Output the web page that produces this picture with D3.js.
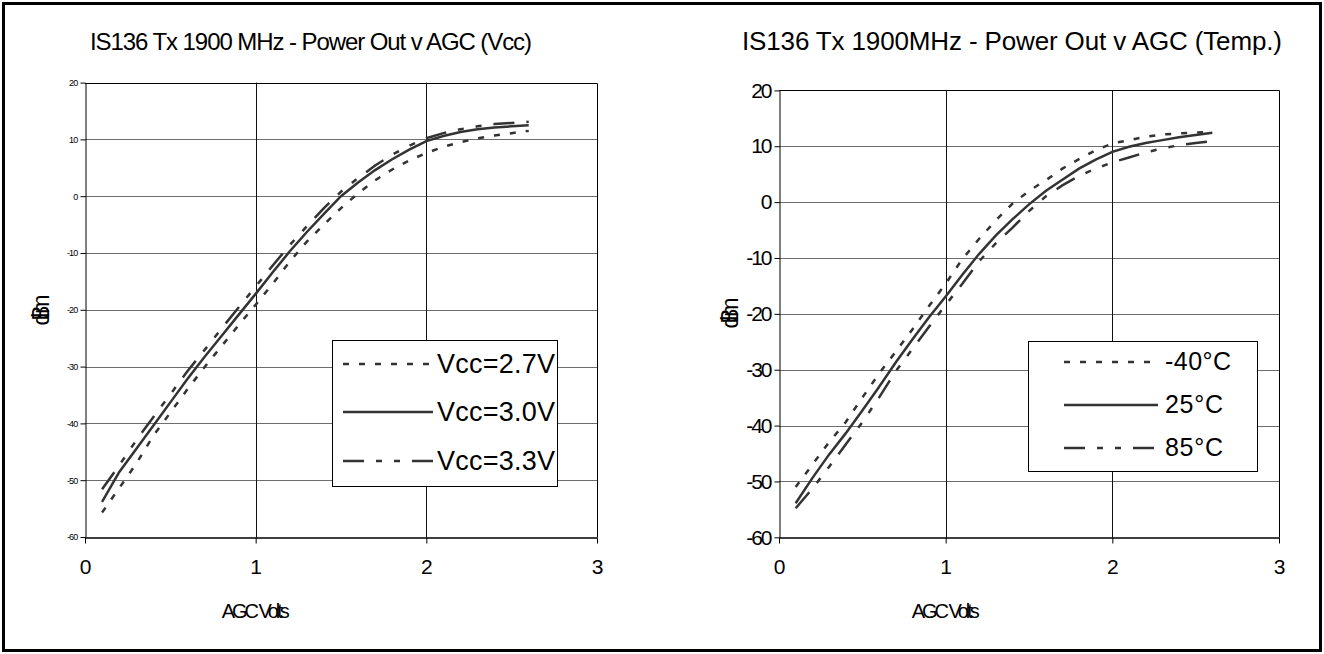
<!DOCTYPE html>
<html><head><meta charset="utf-8">
<script src="https://cdn.jsdelivr.net/npm/d3@7"></script>
<style>
html,body{margin:0;padding:0;background:#fff;}
svg{display:block;}
text{font-family:"Liberation Sans",Arial,sans-serif;fill:#000;}
</style></head>
<body>
<svg id="c" width="1324" height="654"></svg>
<script>
// ---- data ----
const agc = [0.1,0.2,0.3,0.4,0.5,0.6,0.7,0.8,0.9,1.0,1.1,1.2,1.3,1.4,1.5,1.6,1.7,1.8,1.9,2.0,2.1,2.2,2.3,2.4,2.5,2.6];
const vcc27 = [-55.7,-51.4,-47.1,-42.2,-38.1,-34.0,-30.1,-26.4,-22.7,-19.1,-15.4,-11.5,-8.0,-5.0,-2.1,0.5,2.8,4.7,6.3,7.6,8.7,9.5,10.2,10.7,11.1,11.5];
const vcc30 = [-53.8,-48.6,-44.5,-40.4,-36.3,-32.2,-28.3,-24.6,-20.9,-17.2,-13.4,-9.7,-6.3,-3.1,0.0,2.4,4.6,6.5,8.2,9.7,10.6,11.3,11.8,12.1,12.3,12.5];
const vcc33 = [-51.6,-47.4,-43.0,-38.9,-34.9,-30.8,-27.1,-23.3,-19.6,-15.9,-12.2,-8.6,-5.3,-2.1,0.8,3.2,5.4,7.3,8.9,10.2,11.1,11.8,12.3,12.7,12.9,13.1];
const tempM40 = [-51.0,-47.0,-43.0,-39.4,-35.0,-30.7,-26.8,-22.8,-18.6,-14.6,-10.2,-6.6,-3.3,-0.3,2.0,3.9,6.0,7.7,9.3,10.5,11.1,11.7,12.1,12.3,12.45,12.6];
const temp25 = [-53.9,-49.4,-45.2,-41.4,-37.3,-33.1,-28.7,-24.6,-20.6,-16.9,-13.0,-9.3,-6.0,-3.1,-0.4,2.0,4.0,6.0,7.6,9.0,9.9,10.6,11.1,11.6,12.0,12.4];
const temp85 = [-54.8,-51.3,-47.4,-43.4,-39.4,-35.0,-30.3,-26.3,-22.3,-18.4,-14.6,-10.6,-7.4,-4.6,-1.6,1.0,3.0,4.7,6.0,7.1,8.0,8.9,9.6,10.2,10.6,10.9];
const xTicks = [0,1,2,3];
const yTicks = [-60,-50,-40,-30,-20,-10,0,10,20];
const vccNames = ["Vcc=2.7V","Vcc=3.0V","Vcc=3.3V"];
const tempNames = ["-40°C","25°C","85°C"];
const titles = ["IS136 Tx 1900 MHz - Power Out v AGC (Vcc)","IS136 Tx 1900MHz - Power Out v AGC (Temp.)"];
const xTitle = "AGC Volts", yTitle = "dBm";

const dashes = ["6,10", null, "21,12,6,12,6,12"];
const lineColor = "#333";

const svg = d3.select("#c");
// outer frame
svg.append("rect").attr("x",3.5).attr("y",3.5).attr("width",1317).attr("height",647)
  .attr("fill","none").attr("stroke","#000").attr("stroke-width",3);

function squeeze(sel, len){
  sel.attr("textLength",len).attr("lengthAdjust","spacing");
}

function panel(cfg){
  const x = d3.scaleLinear().domain([0,3]).range(cfg.xr);
  const y = d3.scaleLinear().domain([-60,20]).range(cfg.yr);
  const g = svg.append("g");
  // horizontal grid
  g.selectAll(".hg").data(yTicks.filter(v=>v>-60 && v<20)).enter().append("line")
    .attr("x1",x(0)).attr("x2",x(3)).attr("y1",d=>Math.round(y(d))+0.5).attr("y2",d=>Math.round(y(d))+0.5)
    .attr("stroke","#6e6e6e").attr("stroke-width",1.2);
  // vertical grid
  g.selectAll(".vg").data([1,2]).enter().append("line")
    .attr("y1",y(20)).attr("y2",y(-60)).attr("x1",d=>Math.round(x(d))+0.5).attr("x2",d=>Math.round(x(d))+0.5)
    .attr("stroke","#111").attr("stroke-width",1);
  // plot border top/right
  g.append("path").attr("d",`M${x(0)},${Math.round(y(20))+0.5}H${Math.round(x(3))+0.5}V${y(-60)}`)
    .attr("fill","none").attr("stroke","#000").attr("stroke-width",1);
  // axes
  const ay = g.append("g").attr("transform",`translate(${Math.round(x(0))+0.5},0)`)
    .call(d3.axisLeft(y).tickValues(yTicks).tickSize(5).tickSizeOuter(0).tickPadding(cfg.yPad).tickFormat(d=>String(d)));
  ay.selectAll("text").attr("font-family",cfg.yFont).attr("font-size",cfg.yFs).attr("letter-spacing",cfg.yLs).attr("fill","#000");
  ay.select(".domain").attr("stroke","#000");
  const ax = g.append("g").attr("transform",`translate(0,${Math.round(y(-60))+0.5})`)
    .call(d3.axisBottom(x).tickValues(xTicks).tickSize(6).tickSizeOuter(0).tickPadding(16).tickFormat(d=>String(d)));
  ax.selectAll("text").attr("font-size",21).attr("fill","#000");
  ax.select(".domain").attr("stroke","#000").attr("stroke-width",1.3);
  // series
  const line = d3.line().x((d,i)=>x(agc[i])).y(d=>y(d));
  cfg.series.forEach((s,i)=>{
    g.append("path").datum(s).attr("d",line).attr("fill","none").attr("stroke",lineColor)
      .attr("stroke-width",2.5).attr("stroke-dasharray",dashes[i]);
  });
  // title
  g.append("text").attr("x",cfg.tx).attr("y",cfg.ty).attr("text-anchor","middle")
    .attr("font-size",cfg.tFs).call(squeeze,cfg.tLen).text(cfg.title);
  // axis titles
  g.append("text").attr("x",x(1)).attr("y",cfg.xty).attr("text-anchor","middle")
    .attr("font-size",20).call(squeeze,68).text(xTitle);
  g.append("text").attr("transform",`translate(${cfg.ytx},${cfg.yty}) rotate(-90)`).attr("text-anchor","middle")
    .attr("font-size",23).call(squeeze,31).text(yTitle);
  // legend
  const L = cfg.leg;
  const lg = g.append("g");
  lg.append("rect").attr("x",L.x+0.5).attr("y",L.y+0.5).attr("width",L.w).attr("height",L.h)
    .attr("fill","#fff").attr("stroke","#000").attr("stroke-width",1);
  cfg.names.forEach((n,i)=>{
    const yy = L.rows[i];
    lg.append("line").attr("x1",L.lx1).attr("x2",L.lx2).attr("y1",yy).attr("y2",yy)
      .attr("stroke",lineColor).attr("stroke-width",2.5).attr("stroke-dasharray",dashes[i]);
    lg.append("text").attr("x",L.tx).attr("y",yy+L.dy).attr("font-size",L.fs)
      .call(squeeze,L.tl[i]).text(n);
  });
}

panel({xr:[85,597], yr:[537,82.6], title:titles[0], tx:311, ty:50, tLen:442, tFs:24,
  yFont:"Liberation Serif", yFs:9, yLs:-0.8, yPad:3,
  xty:618, ytx:49, yty:310,
  series:[vcc27,vcc30,vcc33], names:vccNames,
  leg:{x:332,y:340,w:225,h:146,rows:[364,412,461],lx1:343,lx2:433,tx:437,tl:[118,118,118],fs:27,dy:9}});

panel({xr:[779,1279], yr:[537.3,90.4], title:titles[1], tx:1012, ty:50, tLen:540, tFs:26,
  yFont:"Liberation Sans", yFs:21, yLs:-2, yPad:4,
  xty:618, ytx:738, yty:313,
  series:[tempM40,temp25,temp85], names:tempNames,
  leg:{x:1028,y:341,w:229,h:130,rows:[362,405,448],lx1:1064,lx2:1158,tx:1165,tl:[66,58,58],fs:25,dy:8}});
</script>
</body></html>
